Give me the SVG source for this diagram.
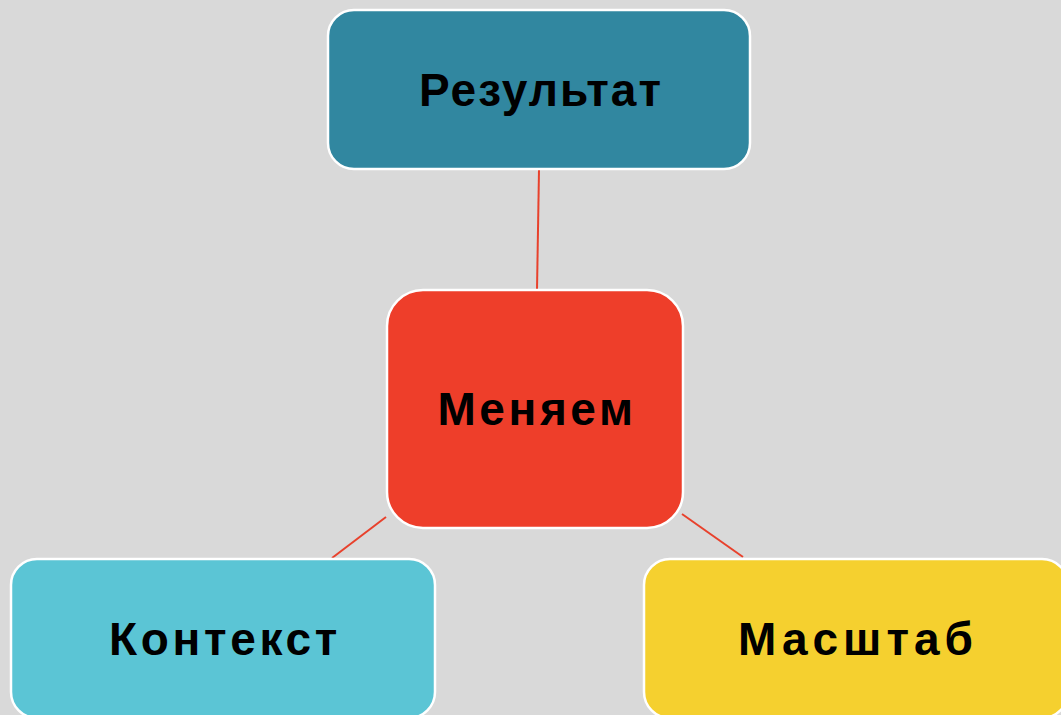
<svg xmlns="http://www.w3.org/2000/svg" width="1061" height="715" viewBox="0 0 1061 715">
<style>
.box{stroke:#ffffff;stroke-width:2.5}
.lbl{font-family:"Liberation Sans",Arial,sans-serif;font-weight:bold;font-size:46px;fill:#000;text-anchor:middle}
.conn{stroke:#e8412c;stroke-width:2;fill:none}
</style>
<rect width="1061" height="715" fill="#d9d9d9"/>
<g id="connectors">
<line class="conn" x1="539" y1="170" x2="537" y2="290"/>
<line class="conn" x1="386" y1="517" x2="332" y2="558"/>
<line class="conn" x1="682" y1="514" x2="743" y2="557"/>
</g>
<g id="node-result">
<rect class="box" x="328" y="10" width="422" height="159" rx="26" fill="#3187a0"/>
<text class="lbl" x="541" y="106" letter-spacing="2">Результат</text>
</g>
<g id="node-change">
<rect class="box" x="387" y="290" width="296" height="238" rx="36" fill="#ee3e2a"/>
<text class="lbl" x="537" y="425" letter-spacing="3.6">Меняем</text>
</g>
<g id="node-context">
<rect class="box" x="11" y="559" width="424" height="159" rx="26" fill="#5bc5d5"/>
<text class="lbl" x="225" y="655" letter-spacing="3.7">Контекст</text>
</g>
<g id="node-scale">
<rect class="box" x="644" y="559" width="424" height="159" rx="26" fill="#f5d02f"/>
<text class="lbl" x="858" y="655" letter-spacing="5">Масштаб</text>
</g>
</svg>
